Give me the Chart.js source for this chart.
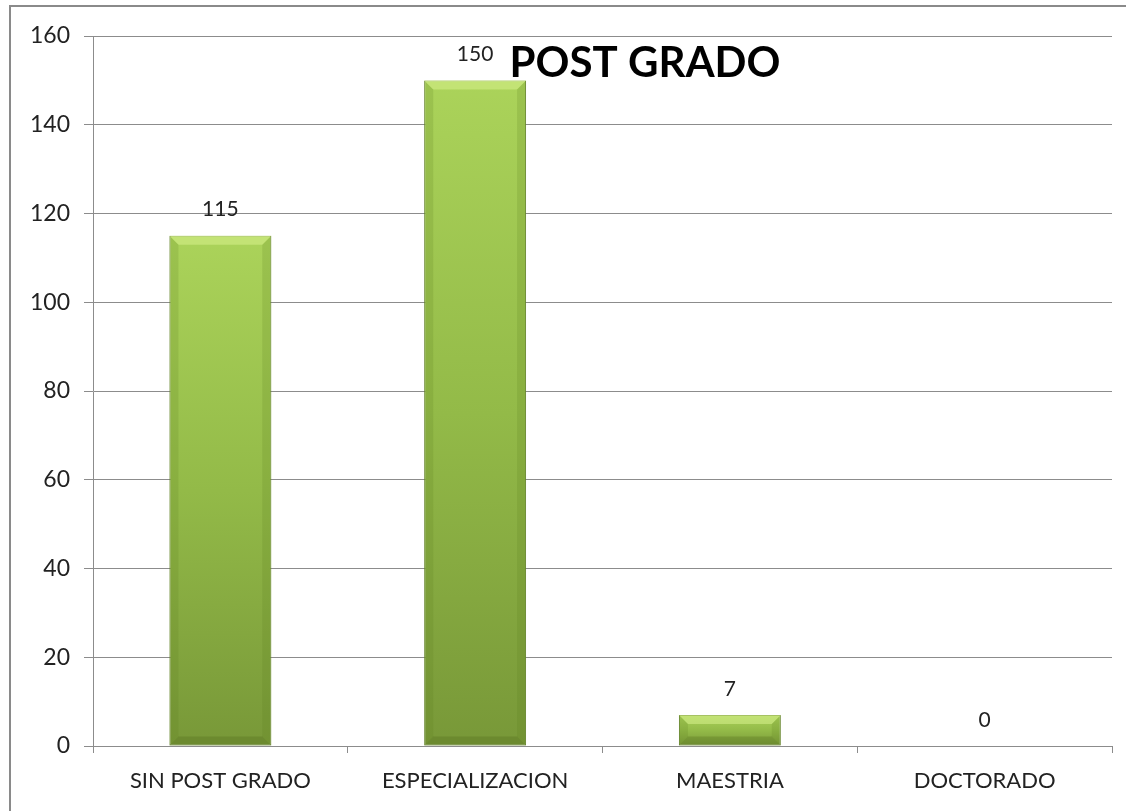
<!DOCTYPE html>
<html>
<head>
<meta charset="utf-8">
<script src="https://cdn.jsdelivr.net/npm/chart.js@4"></script>
<style>
  html, body { margin: 0; padding: 0; background: #fff; }
  #frame {
    position: absolute; left: 9px; top: 5px;
    width: 1200px; height: 900px;
    border: 2px solid #8a8a8a; box-sizing: border-box;
  }
  #wrap { position: absolute; left: 0; top: 0; width: 1126px; height: 811px; }
</style>
</head>
<body>
<div id="frame"></div>
<div id="wrap"><canvas id="postGradoChart"></canvas></div>
<script>
// --- POST GRADO (Chart.js) ---

const categories = ['SIN POST GRADO', 'ESPECIALIZACION', 'MAESTRIA', 'DOCTORADO'];
const counts = [115, 150, 7, 0];
const yTicks = [0, 20, 40, 60, 80, 100, 120, 140, 160];
const chartTitle = 'POST GRADO';

const FONT = 'Lato, "Open Sans", sans-serif';

// vertical gradient per bar, light on top, darker at the base
function barFill(ctx) {
    const chart = ctx.chart;
    const area = chart.chartArea;
    if (!area || ctx.raw === undefined) return '#93bb48';
    const y = chart.scales.y;
    const top = y.getPixelForValue(ctx.raw);
    const base = y.getPixelForValue(0);
    if (base - top < 1) return '#93bb48';
    const g = chart.ctx.createLinearGradient(0, top, 0, base);
    g.addColorStop(0, '#abd35a');
    g.addColorStop(0.5, '#93ba48');
    g.addColorStop(1, '#789838');
    return g;
}

// soft bevel on each bar (lighter top edge, darker sides and base)
const barBevel = {
    id: 'barBevel',
    afterDatasetsDraw(chart) {
        const { ctx } = chart;
        const meta = chart.getDatasetMeta(0);
        ctx.save();
        meta.data.forEach(bar => {
            const half = bar.width / 2;
            const l = bar.x - half, r = bar.x + half;
            const t = bar.y, b = bar.base;
            const h = b - t;
            if (h < 2) return;
            const s = Math.min(9, h / 2);
            // top
            ctx.fillStyle = 'rgba(215,240,140,0.55)';
            ctx.beginPath();
            ctx.moveTo(l, t); ctx.lineTo(r, t); ctx.lineTo(r - s, t + s); ctx.lineTo(l + s, t + s);
            ctx.closePath(); ctx.fill();
            // left
            ctx.fillStyle = 'rgba(90,120,30,0.18)';
            ctx.beginPath();
            ctx.moveTo(l, t); ctx.lineTo(l + s, t + s); ctx.lineTo(l + s, b - s); ctx.lineTo(l, b);
            ctx.closePath(); ctx.fill();
            // right
            ctx.beginPath();
            ctx.moveTo(r, t); ctx.lineTo(r - s, t + s); ctx.lineTo(r - s, b - s); ctx.lineTo(r, b);
            ctx.closePath(); ctx.fill();
            // base
            ctx.fillStyle = 'rgba(70,95,20,0.25)';
            ctx.beginPath();
            ctx.moveTo(l, b); ctx.lineTo(r, b); ctx.lineTo(r - s, b - s); ctx.lineTo(l + s, b - s);
            ctx.closePath(); ctx.fill();
        });
        ctx.restore();
    }
};

// value labels above the bars
const valueLabels = {
    id: 'valueLabels',
    afterDatasetsDraw(chart) {
        const { ctx } = chart;
        const meta = chart.getDatasetMeta(0);
        ctx.save();
        ctx.font = '21px ' + FONT;
        ctx.fillStyle = '#222';
        ctx.textAlign = 'center';
        ctx.textBaseline = 'middle';
        meta.data.forEach((bar, i) => {
            ctx.fillText(String(counts[i]), bar.x, bar.y - 26);
        });
        ctx.restore();
    }
};

// title sits inside the plot area, next to the tallest bar
const insideTitle = {
    id: 'insideTitle',
    afterDraw(chart) {
        const { ctx, chartArea } = chart;
        ctx.save();
        ctx.font = 'bold 42px ' + FONT;
        ctx.fillStyle = '#000';
        ctx.textAlign = 'center';
        ctx.textBaseline = 'alphabetic';
        ctx.fillText(chartTitle, 645, chartArea.top + 41);
        ctx.restore();
    }
};

const ctxEl = document.getElementById('postGradoChart');
new Chart(ctxEl, {
    type: 'bar',
    data: {
        labels: categories,
        datasets: [{
            data: counts,
            backgroundColor: barFill,
            borderColor: '#6b8a32',
            borderWidth: 1,
            borderSkipped: false,
            barPercentage: 0.4,
            categoryPercentage: 1.0
        }]
    },
    options: {
        responsive: true,
        maintainAspectRatio: false,
        animation: false,
        layout: { padding: { top: 36, right: 14, left: 0, bottom: 0 } },
        plugins: {
            legend: { display: false },
            title: { display: false },
            tooltip: { enabled: false }
        },
        scales: {
            y: {
                min: 0,
                max: 160,
                afterBuildTicks(scale) {
                    scale.ticks = yTicks.map(v => ({ value: v }));
                },
                afterFit(scale) { scale.width = 93; },
                ticks: {
                    font: { family: FONT, size: 23 },
                    color: '#222',
                    padding: 14
                },
                grid: { color: '#8c8c8c', lineWidth: 1, tickLength: 9 },
                border: { color: '#8c8c8c', width: 1 }
            },
            x: {
                afterFit(scale) { scale.height = 811 - 746; },
                ticks: {
                    font: { family: FONT, size: 22 },
                    color: '#222',
                    padding: 15,
                    maxRotation: 0
                },
                grid: {
                    offset: true,
                    drawOnChartArea: false,
                    color: '#8c8c8c',
                    tickLength: 7
                },
                border: { color: '#8c8c8c', width: 1 }
            }
        }
    },
    plugins: [barBevel, valueLabels, insideTitle]
});
</script>
</body>
</html>
